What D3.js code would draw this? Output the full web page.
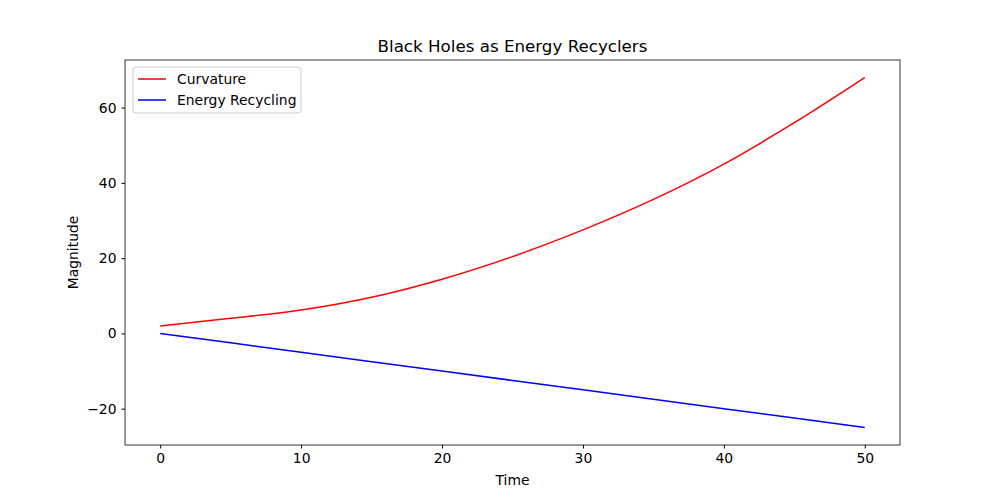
<!DOCTYPE html>
<html><head><meta charset="utf-8">
<script src="https://cdn.jsdelivr.net/npm/d3@7"></script>
<style>body{margin:0;background:#fff}svg text{font-family:"DejaVu Sans",sans-serif}</style>
</head><body><svg id="c" width="1000" height="500"></svg>
<script>
const times = [0,5,10,15,20,25,30,35,40,45,50];
const curvature = [2,4,6.2,9.6,14.4,20.4,27.5,35.6,45,56,68];
const energy = [0,-2.5,-5,-7.5,-10,-12.5,-15,-17.5,-20,-22.5,-25];
const xTicks = [0,10,20,30,40,50];
const yTicks = [-20,0,20,40,60];

const svg = d3.select("#c");
const L=125,R=900,T=60,B=445;
const x = d3.scaleLinear().domain([-2.5,52.5]).range([L,R]);
const y = d3.scaleLinear().domain([-29.65,72.65]).range([B,T]);

const gx = svg.append("g").attr("transform",`translate(0,${B})`)
  .call(d3.axisBottom(x).tickValues(xTicks).tickSize(3.5).tickPadding(5).tickFormat(d3.format("d")));
const gy = svg.append("g").attr("transform",`translate(${L},0)`)
  .call(d3.axisLeft(y).tickValues(yTicks).tickSize(3.5).tickPadding(5).tickFormat(d=>d<0?"\u2212"+Math.abs(d):d));
[gx,gy].forEach(g=>{g.select(".domain").remove();g.selectAll("text").attr("font-size",13.9).attr("fill","#000");g.selectAll("line").attr("stroke","#000");});

svg.append("rect").attr("x",L).attr("y",T).attr("width",R-L).attr("height",B-T).attr("fill","none").attr("stroke","#000").attr("stroke-width",0.8);

const line = d3.line().curve(d3.curveMonotoneX);
svg.append("path").attr("d",line(times.map((t,i)=>[x(t),y(curvature[i])]))).attr("fill","none").attr("stroke","red").attr("stroke-width",1.5);
svg.append("path").attr("d",line(times.map((t,i)=>[x(t),y(energy[i])]))).attr("fill","none").attr("stroke","blue").attr("stroke-width",1.5);

svg.append("text").attr("x",(L+R)/2).attr("y",T-8).attr("text-anchor","middle").attr("font-size",16.7).text("Black Holes as Energy Recyclers");
svg.append("text").attr("x",(L+R)/2).attr("y",485).attr("text-anchor","middle").attr("font-size",13.9).text("Time");
svg.append("text").attr("transform",`translate(78,${(T+B)/2}) rotate(-90)`).attr("text-anchor","middle").attr("font-size",13.9).text("Magnitude");

const lg = svg.append("g");
lg.append("rect").attr("x",133).attr("y",67).attr("width",168).attr("height",46).attr("rx",3).attr("fill","#fff").attr("fill-opacity",0.8).attr("stroke","#ccc");
[["Curvature","red",79],["Energy Recycling","blue",100]].forEach(([n,c,yy])=>{
  lg.append("line").attr("x1",138).attr("x2",166).attr("y1",yy).attr("y2",yy).attr("stroke",c).attr("stroke-width",1.5);
  lg.append("text").attr("x",177).attr("y",yy+5).attr("font-size",13.9).text(n);
});
</script></body></html>
